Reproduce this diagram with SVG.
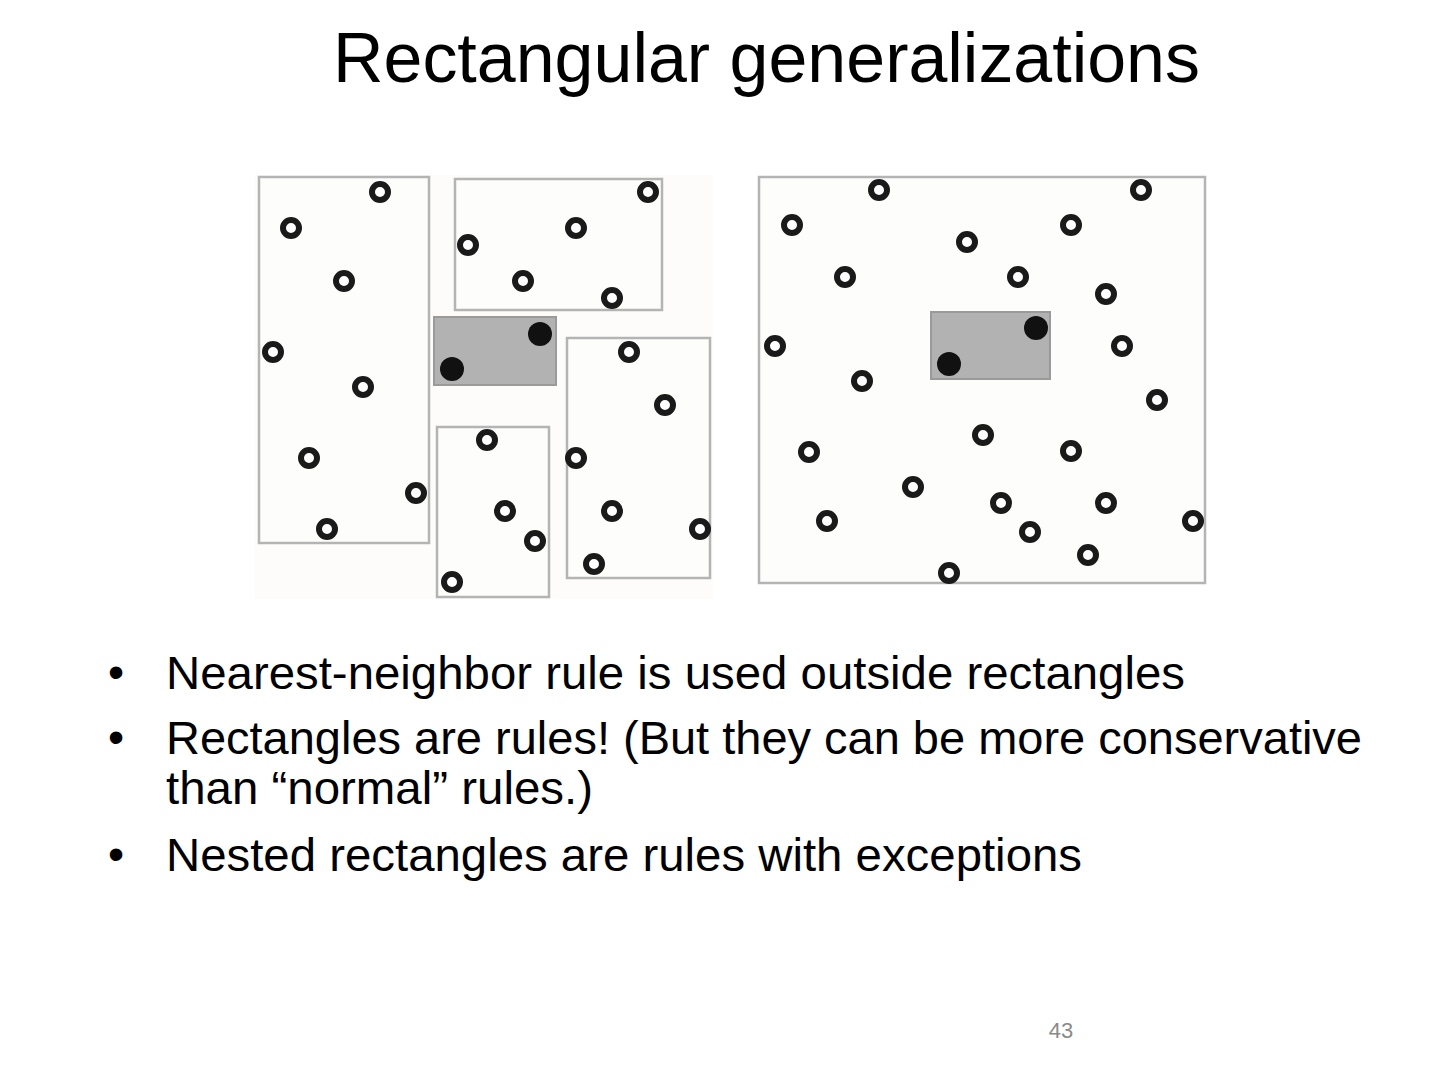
<svg xmlns="http://www.w3.org/2000/svg" width="1440" height="1080" viewBox="0 0 1440 1080">
<defs>
<style>
.title{font-family:"Liberation Sans",Arial,sans-serif;font-size:70px;fill:#000}
.body{font-family:"Liberation Sans",Arial,sans-serif;font-size:46px;fill:#000}
.pg{font-family:"Liberation Sans",Arial,sans-serif;font-size:22px;fill:#8a8a8a}
.box{fill:#fdfdfc;stroke:#b4b4b4;stroke-width:2.5}
.grey{fill:#b2b2b2;stroke:#9a9a9a;stroke-width:2}
.ring{fill:#fff;stroke:#1a1a1a;stroke-width:6}
.dot{fill:#111}
</style>
<circle id="o" class="ring" r="8"/>
<circle id="f" class="dot" r="12"/>
</defs>
<rect width="1440" height="1080" fill="#fff"/>
<text class="title" x="333" y="82" textLength="867" lengthAdjust="spacingAndGlyphs">Rectangular generalizations</text>

<g id="left-figure">
<rect x="255" y="175" width="458" height="424" fill="#fdfcfb"/>
<rect class="box" x="259" y="177" width="170" height="366"/>
<rect class="box" x="455" y="179" width="207" height="131"/>
<rect class="box" x="437" y="427" width="112" height="170"/>
<rect class="box" x="567" y="338" width="143" height="240"/>
<rect class="grey" x="434" y="317" width="122" height="68"/>
<use href="#o" x="380" y="192"/><use href="#o" x="291" y="228"/><use href="#o" x="344" y="281"/>
<use href="#o" x="273" y="352"/><use href="#o" x="363" y="387"/><use href="#o" x="309" y="458"/>
<use href="#o" x="416" y="493"/><use href="#o" x="327" y="529"/>
<use href="#o" x="468" y="245"/><use href="#o" x="576" y="228"/><use href="#o" x="648" y="192"/>
<use href="#o" x="523" y="281"/><use href="#o" x="612" y="298"/>
<use href="#o" x="629" y="352"/><use href="#o" x="665" y="405"/><use href="#o" x="576" y="458"/>
<use href="#o" x="612" y="511"/><use href="#o" x="700" y="529"/><use href="#o" x="594" y="564"/>
<use href="#o" x="487" y="440"/><use href="#o" x="505" y="511"/><use href="#o" x="535" y="541"/>
<use href="#o" x="452" y="582"/>
<use href="#f" x="540" y="334"/><use href="#f" x="452" y="369"/>
</g>

<g id="right-figure">
<rect class="box" x="759" y="177" width="446" height="406"/>
<rect class="grey" x="931" y="312" width="119" height="67"/>
<use href="#o" x="879" y="190"/><use href="#o" x="792" y="225"/><use href="#o" x="845" y="277"/>
<use href="#o" x="775" y="346"/><use href="#o" x="862" y="381"/><use href="#o" x="967" y="242"/>
<use href="#o" x="1141" y="190"/><use href="#o" x="1071" y="225"/><use href="#o" x="1018" y="277"/>
<use href="#o" x="1106" y="294"/><use href="#o" x="1122" y="346"/><use href="#o" x="1157" y="400"/>
<use href="#o" x="809" y="452"/><use href="#o" x="913" y="487"/><use href="#o" x="827" y="521"/>
<use href="#o" x="949" y="573"/><use href="#o" x="983" y="435"/><use href="#o" x="1071" y="451"/>
<use href="#o" x="1001" y="503"/><use href="#o" x="1106" y="503"/><use href="#o" x="1030" y="532"/>
<use href="#o" x="1193" y="521"/><use href="#o" x="1088" y="555"/>
<use href="#f" x="1036" y="328"/><use href="#f" x="949" y="364"/>
</g>

<g id="bullets">
<text class="body" x="108" y="688">•</text>
<text class="body" x="166" y="689" textLength="1019" lengthAdjust="spacingAndGlyphs">Nearest-neighbor rule is used outside rectangles</text>
<text class="body" x="108" y="753">•</text>
<text class="body" x="166" y="754" textLength="1196" lengthAdjust="spacingAndGlyphs">Rectangles are rules! (But they can be more conservative</text>
<text class="body" x="166" y="804" textLength="427" lengthAdjust="spacingAndGlyphs">than “normal” rules.)</text>
<text class="body" x="108" y="870">•</text>
<text class="body" x="166" y="871" textLength="916" lengthAdjust="spacingAndGlyphs">Nested rectangles are rules with exceptions</text>
</g>
<text class="pg" x="1061" y="1038" text-anchor="middle">43</text>
</svg>
